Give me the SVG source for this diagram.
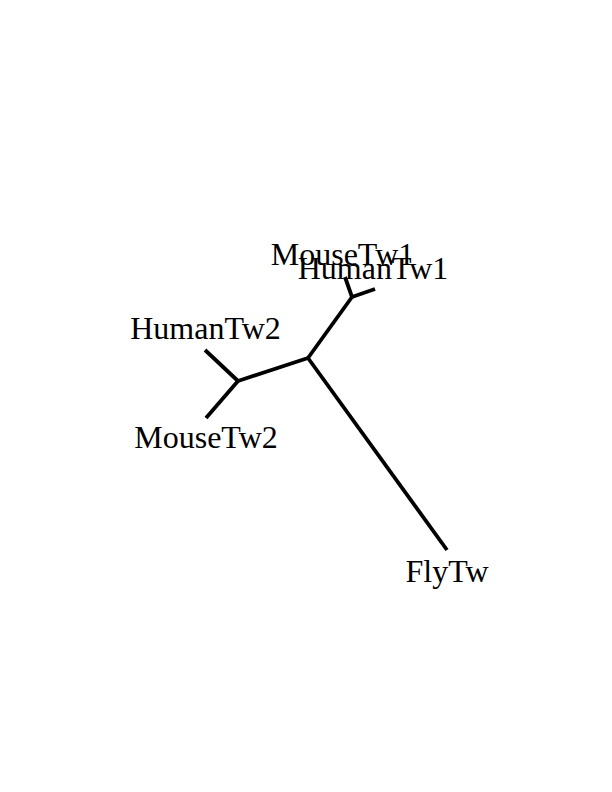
<svg xmlns="http://www.w3.org/2000/svg" width="612" height="792" viewBox="0 0 612 792">
<style>
.lbl{font-family:"Liberation Serif","Times New Roman",serif;font-size:32px;fill:#000;text-anchor:middle}
.br{stroke:#000;stroke-width:3.8;fill:none;stroke-linecap:butt;stroke-linejoin:miter}
</style>
<rect width="612" height="792" fill="#fff"/>
<g id="connectors">
<path class="br" d="M308,358 L447,550"/>
<path class="br" d="M308,358 L238,381"/>
<path class="br" d="M238,381 L205,350"/>
<path class="br" d="M238,381 L206,418"/>
<path class="br" d="M308,358 L352,297"/>
<path class="br" d="M352,297 L345,277"/>
<path class="br" d="M352,297 L375,289"/>
</g>
<g id="MouseTw1"><text class="lbl" x="342.5" y="265">MouseTw1</text></g>
<g id="HumanTw1"><text class="lbl" x="373" y="279">HumanTw1</text></g>
<g id="HumanTw2"><text class="lbl" x="205.5" y="339">HumanTw2</text></g>
<g id="MouseTw2"><text class="lbl" x="206" y="448">MouseTw2</text></g>
<g id="FlyTw"><text class="lbl" x="447" y="582">FlyTw</text></g>
</svg>
